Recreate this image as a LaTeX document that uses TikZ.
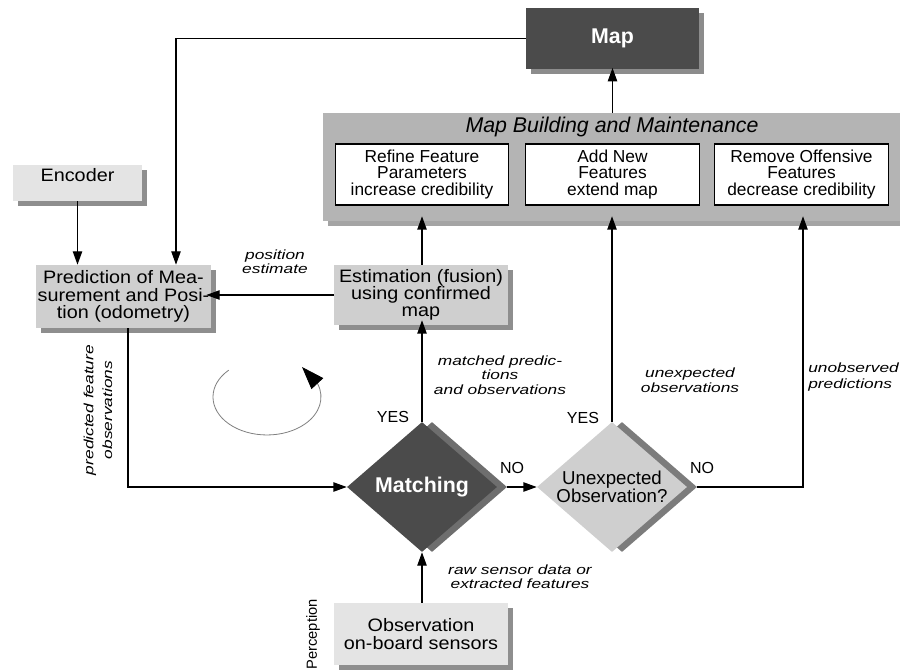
\documentclass[tikz,border=0pt]{standalone}
\usepackage{fontspec}
\setmainfont{Liberation Sans}
\newfontfamily\lblfont[FakeStretch=1.3]{Liberation Sans}
\newfontfamily\boxfont[FakeStretch=1.1]{Liberation Sans}
\usetikzlibrary{arrows.meta,shapes.geometric,shadows}
\definecolor{mapdark}{HTML}{4B4B4B}
\definecolor{mapshadow}{HTML}{8C8C8C}
\definecolor{panelgray}{HTML}{B4B4B4}
\definecolor{panelshadow}{HTML}{A4A4A4}
\definecolor{lightbox}{HTML}{E4E4E4}
\definecolor{midbox}{HTML}{CFCFCF}
\definecolor{boxshadow}{HTML}{8E8E8E}
\definecolor{matchshadow}{HTML}{6E6E6E}
\definecolor{unexpshadow}{HTML}{7C7C7C}
\tikzset{
  sbox/.style={inner sep=0pt, align=center, font=\boxfont\fontsize{13.5}{13}\selectfont,
    general shadow={fill=#1, shadow xshift=3.75pt, shadow yshift=-3.75pt}},
  subbox/.style={draw=black, line width=0.8pt, fill=white, inner sep=0pt, align=center,
    minimum width=130pt, minimum height=45.75pt, font=\fontsize{13}{12.5}\selectfont},
  arr/.style={-{Triangle[length=10pt,width=7pt]}, line width=0.9pt},
  conn/.style={line width=0.9pt},
  lbl/.style={inner sep=0pt, align=center, font=\lblfont\itshape\fontsize{10}{10.5}\selectfont},
  yn/.style={inner sep=0pt, font=\fontsize{12}{12}\selectfont},
  dmd/.style={diamond, inner sep=0pt, minimum width=112.5pt, minimum height=97.5pt},
}
\begin{document}
\begin{tikzpicture}[x=0.75pt,y=-0.75pt]
\useasboundingbox (0,0) rectangle (900,670);
\fill[white] (0,0) rectangle (900,670);

% Map
\node[sbox=mapshadow, fill=mapdark, minimum width=129.75pt, minimum height=45.75pt,
  text=white, font=\bfseries\fontsize{16}{16}\selectfont] (map) at (612.5,38.5) {Map};

% Map building panel
\node[sbox=panelshadow, fill=panelgray, minimum width=436.5pt, minimum height=81pt] (panel) at (614,167) {};
\node[inner sep=0pt, font=\itshape\fontsize{16}{16}\selectfont] (ptitle) at (612,127) {Map Building and Maintenance};
\node[subbox] (refine) at (422,174.5) {Refine Feature\\Parameters\\increase credibility};
\node[subbox] (addnew) at (612.5,174.5) {Add New\\Features\\extend map};
\node[subbox] (remove) at (801.5,174.5) {Remove Offensive\\Features\\decrease credibility};

% Encoder
\node[sbox=boxshadow, fill=lightbox, minimum width=96.75pt, minimum height=27pt,
  text height=9.5pt, text depth=11.7pt] (enc) at (77.5,183) {Encoder};

% Prediction
\node[sbox=boxshadow, fill=midbox, minimum width=131.25pt, minimum height=47.25pt] (pred) at (123.5,296.5)
  {Prediction of Mea-\\surement and Posi-\\tion (odometry)};

% Estimation
\node[sbox=boxshadow, fill=midbox, minimum width=130.5pt, minimum height=45pt] (est) at (421,295)
  {Estimation (fusion)\\using confirmed\\map};

% Observation
\node[sbox=boxshadow, fill=lightbox, minimum width=130.5pt, minimum height=46.5pt] (obs) at (421,634)
  {Observation\\on-board sensors};

% Diamonds
\node[dmd, fill=mapdark, general shadow={fill=matchshadow, shadow xshift=7.5pt},
  text=white, font=\bfseries\fontsize{16}{16}\selectfont] (match) at (422,487) {Matching};
\node[dmd, fill=midbox, general shadow={fill=unexpshadow, shadow xshift=7.5pt},
  label={[align=center, inner sep=0pt, font=\fontsize{14}{13.5}\selectfont]center:Unexpected\\Observation?}] (unexp) at (612,487) {};

% Connectors
\coordinate (corner) at (176,38.5);
\coordinate (ep) at (422,0);
\draw[conn] (map.west) -- (corner);
\draw[arr] (corner) -- (corner |- pred.north);
\draw[arr] (enc.south) -- (enc.south |- pred.north);
\draw[arr, shorten >=-3.75pt] (est.west) -- (est.west -| pred.east);
\draw[arr, shorten >=-3.75pt] (est.north -| ep) -- (panel.south -| ep);
\draw[arr, shorten >=-1pt] (panel.north -| map.south) -- (map.south);
\coordinate (pc) at (128,487);
\draw[arr] (pred.south -| pc) -- (pc) -- (match.west);
\draw[arr, shorten >=-3.75pt] (match.north) -- (match.north |- est.south);
\draw[arr] ([xshift=7.5pt]match.east) -- (unexp.west);
\draw[arr, shorten >=-3.75pt] (unexp.north) -- (unexp.north |- panel.south);
\coordinate (ur) at (803,487);
\draw[arr, shorten >=-3.75pt] ([xshift=7.5pt]unexp.east) -- (ur) -- (ur |- panel.south);
\draw[arr] (obs.north -| match.south) -- (match.south);

% Cycle arrow
\coordinate (cyctip) at (302,367);
\draw[gray, line width=0.6pt, -{Triangle[length=17pt,width=12pt,color=black]}]
  (228.8,370.1) arc[start angle=-135, end angle=-380, x radius=54, y radius=38] -- (cyctip);

% Labels
\node[lbl] (posest) at (275,262) {position\\estimate};
\node[lbl, rotate=90, font=\lblfont\itshape\fontsize{10}{14}\selectfont] (predobs) at (98,410) {predicted feature\\observations};
\node[lbl, font=\lblfont\itshape\fontsize{10}{11}\selectfont] (matchedlbl) at (500,375) {matched predic-\\tions\\and observations};
\node[lbl, font=\lblfont\itshape\fontsize{10}{11.5}\selectfont] (unexplbl) at (690,380) {unexpected\\observations};
\node[lbl, align=left, anchor=west, font=\lblfont\itshape\fontsize{10}{11.5}\selectfont] (unobslbl) at (808,377) {unobserved\\predictions};
\node[lbl, font=\lblfont\itshape\fontsize{10}{10.5}\selectfont] (rawlbl) at (520,577) {raw sensor data or\\extracted features};
\node[yn] (yes1) at (393,417) {YES};
\node[yn] (yes2) at (583,418) {YES};
\node[yn] (no1) at (512,468) {NO};
\node[yn] (no2) at (702,468) {NO};
\node[inner sep=0pt, rotate=90, anchor=east, font=\fontsize{11}{11}\selectfont] (percep) at (313,599) {Perception};
\end{tikzpicture}
\end{document}
